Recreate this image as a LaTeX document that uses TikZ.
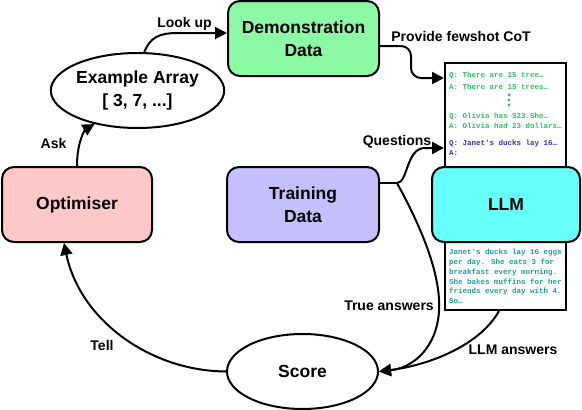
\documentclass[tikz,border=0pt]{standalone}
\usepackage{fontspec}
\setmainfont{Liberation Sans}
\newfontfamily\monof{Liberation Mono}
\usetikzlibrary{shapes.geometric,arrows.meta}
\newcommand\nodefnt{\fontsize{17.5}{23}\selectfont\bfseries}
\newcommand\labfnt{\fontsize{14}{16}\selectfont\bfseries}
\newcommand\monofnt{\fontsize{7.5}{9}\selectfont\monof\bfseries}
\definecolor{demofill}{RGB}{140,250,165}
\definecolor{optfill}{RGB}{255,200,200}
\definecolor{trainfill}{RGB}{196,192,252}
\definecolor{llmfill}{RGB}{102,255,250}
\definecolor{qgreen}{RGB}{40,200,90}
\definecolor{qblue}{RGB}{50,50,205}
\definecolor{ateal}{RGB}{30,160,160}
\tikzset{
  box/.style={draw, line width=2pt, rounded corners=12pt, align=center, font=\nodefnt, inner sep=0pt},
  ell/.style={draw, ellipse, line width=2pt, fill=white, inner sep=0pt, align=center, font=\nodefnt},
  paper/.style={draw, line width=2pt, fill=white, inner sep=0pt, minimum width=121pt},
  arr/.style={line width=2pt, -{Triangle[length=12pt,width=12pt]}},
  lab/.style={font=\labfnt, inner sep=0pt},
  mono/.style={font=\monofnt, anchor=west, inner sep=0pt},
}
\begin{document}
\begin{tikzpicture}[x=1pt,y=-1pt]
\useasboundingbox (0,0) rectangle (582,410);

% paper boxes (behind LLM)
\node[paper, minimum height=112pt] (prompt) at (505.5,119) {};
\node[paper, minimum height=74pt] (output) at (505.5,273) {};

% main nodes
\node[box, fill=demofill, minimum width=151pt, minimum height=75pt] (demo) at (303.5,38.5) {Demonstration\\Data};
\node[box, fill=optfill, minimum width=150pt, minimum height=75pt] (opt) at (77,204.5) {Optimiser};
\node[box, fill=trainfill, minimum width=152pt, minimum height=75pt] (train) at (303,204.5) {Training\\Data};
\node[box, fill=llmfill, minimum width=148pt, minimum height=75pt] (llm) at (506,204.5) {LLM};
\node[ell, minimum width=149pt, minimum height=75pt] (ex) at (137.5,90.5) {Example Array\\{[} 3, 7, ...{]}};
\node[ell, minimum width=151pt, minimum height=75pt] (score) at (302.5,371.5) {Score};

% prompt text
\node[mono, text=qgreen] (p1) at (449,76) {Q: There are 15 tree…};
\node[mono, text=qgreen] (p2) at (449,87) {A: There are 15 trees…};
\fill[qgreen] (509,95) circle (1.6) (509,100) circle (1.6) (509,105) circle (1.6);
\node[mono, text=qgreen] (p3) at (449,116) {Q: Olivia has \$23.She…};
\node[mono, text=qgreen] (p4) at (449,125.5) {A: Olivia had 23 dollars…};
\node[mono, text=qblue] (p5) at (449,144) {Q: Janet's ducks lay 16…};
\node[mono, text=qblue] (p6) at (449,153) {A:};

% output text
\node[mono, text=ateal] (o1) at (449,253) {Janet's ducks lay 16 eggs};
\node[mono, text=ateal] (o2) at (449,262.7) {per day. She eats 3 for};
\node[mono, text=ateal] (o3) at (449,272.3) {breakfast every morning.};
\node[mono, text=ateal] (o4) at (449,282) {She bakes muffins for her};
\node[mono, text=ateal] (o5) at (449,291.6) {friends every day with 4.};
\node[mono, text=ateal] (o6) at (449,301) {So…};

% connectors
\draw[arr] (opt.north) .. controls (77,140) and (86,129) .. (ex.218);
\draw[arr] (ex.80) .. controls (150,38) and (158,33) .. (178,33) -- ([yshift=5.5pt]demo.west);
\draw[arr, rounded corners=10pt] ([yshift=-7.5pt]demo.east) -- (411,46) -- (411,78) -- (prompt.west |- 0,78);
\draw[line width=2pt] (train.east |- 0,183) -- (397,183);
\draw[arr] (397,183) .. controls (408,183) and (406,148) .. (425,148) -- (prompt.west |- 0,148);
\draw[arr] (397,183) .. controls (420,225) and (445,280) .. (438,320) .. controls (433,350) and (412,368) .. (score.east);
\draw[arr] (output.south -| 499,0) .. controls (480,345) and (430,365) .. (score.east);
\draw[arr] (score.west) .. controls (150,371) and (80,320) .. ([xshift=-13pt]opt.south);

% labels
\node[lab] (lask) at (53.5,143) {Ask};
\node[lab] (llook) at (184.5,24) {Look up};
\node[lab] (lprov) at (461,36) {Provide fewshot CoT};
\node[lab] (lq) at (397,142) {Questions};
\node[lab] (ltrue) at (389,306) {True answers};
\node[lab] (lllm) at (513,350) {LLM answers};
\node[lab] (ltell) at (102,345) {Tell};
\end{tikzpicture}
\end{document}
